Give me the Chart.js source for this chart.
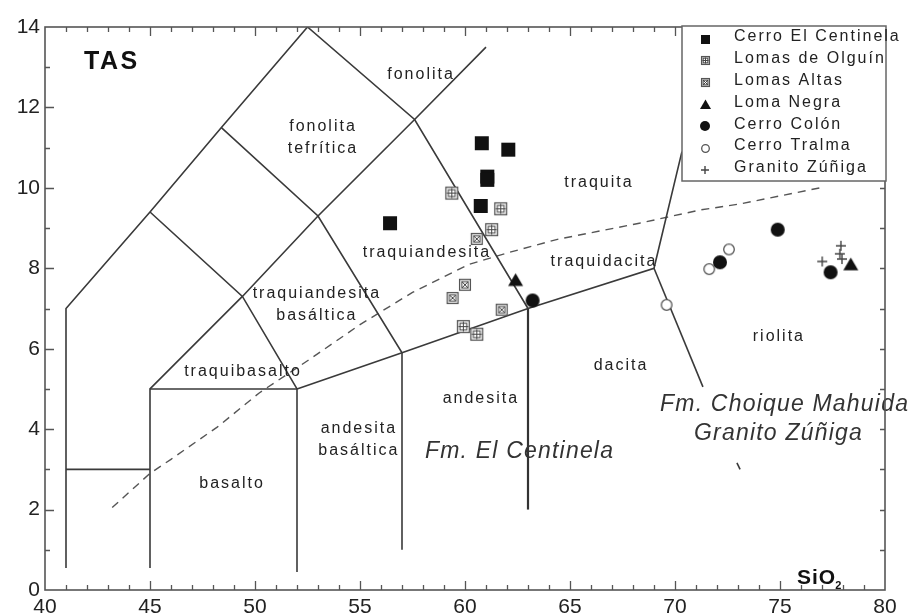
<!DOCTYPE html>
<html>
<head>
<meta charset="utf-8">
<script src="https://cdn.jsdelivr.net/npm/chart.js@4/dist/chart.umd.min.js"></script>
<style>
  html, body { margin: 0; padding: 0; background: #fff; }
  #wrap { width: 914px; height: 616px; }
</style>
</head>
<body>
<div id="wrap"><canvas id="tas" width="914" height="616"></canvas></div>
<script>
// ---- axes ----
const xTickValues = [40, 45, 50, 55, 60, 65, 70, 75, 80];
const yTickValues = [0, 2, 4, 6, 8, 10, 12, 14];

// ---- samples: SiO2 (wt%) and Na2O+K2O (wt%) ----
const seriesNames = ['Cerro El Centinela', 'Lomas de Olguín', 'Lomas Altas', 'Loma Negra',
                     'Cerro Colón', 'Cerro Tralma', 'Granito Zúñiga'];
const centinelaX = [56.43, 60.8, 62.06, 61.06, 61.06, 60.75];
const centinelaY = [9.12, 11.11, 10.95, 10.28, 10.2, 9.55];
const olguinX = [59.37, 61.7, 61.27, 59.92, 60.56];
const olguinY = [9.87, 9.48, 8.96, 6.55, 6.36];
const altasX = [60.56, 60.0, 59.41, 61.75];
const altasY = [8.73, 7.59, 7.26, 6.97];
const negraX = [62.41, 78.37];
const negraY = [7.71, 8.1];
const colonX = [63.22, 72.14, 74.89, 77.41];
const colonY = [7.2, 8.15, 8.96, 7.9];
const tralmaX = [69.6, 71.63, 72.57];
const tralmaY = [7.09, 7.98, 8.47];
const zunigaX = [77.01, 77.9, 77.85, 77.95];
const zunigaY = [8.17, 8.56, 8.36, 8.23];

// ---- TAS field boundaries (SiO2, total alkali) ----
const outerBoundary = [[41, 0.55], [41, 7], [45, 9.4], [48.4, 11.5], [52.5, 14], [57.6, 11.7], [63, 7]];
const picroLine = [[41, 3], [45, 3]];
const basaltBox = [[45, 0.55], [45, 5], [52, 5], [52, 0.45]];
const subalkTop = [[52, 5], [57, 5.9], [63, 7], [69, 8], [70.33, 10.9]];
const andesiteSide = [[57, 1], [57, 5.9], [53, 9.3], [48.4, 11.5]];
const tephriteSide = [[45, 9.4], [49.4, 7.3], [52, 5]];
const trachyteSide = [[45, 5], [49.4, 7.3], [53, 9.3], [57.6, 11.7], [61, 13.5]];
const daciteSide = [[63, 2], [63, 7]];
const rhyoliteUpper = [[69, 8], [71.33, 5.05]];
const rhyoliteLower = [[72.95, 3.16], [73.1, 3.0]];
const boundaryList = [outerBoundary, picroLine, basaltBox, subalkTop, andesiteSide,
                      tephriteSide, trachyteSide, rhyoliteUpper, rhyoliteLower];

// alkaline / subalkaline divide
const divideX = [43.2, 45, 46, 48.2, 50.2, 52.5, 55, 57.5, 60.2, 62, 64.4, 68.3, 71.2, 73.1, 76.9];
const divideY = [2.05, 2.9, 3.25, 4.05, 4.9, 5.7, 6.6, 7.4, 8.1, 8.38, 8.72, 9.12, 9.45, 9.6, 10.0];

// ---- field names ----
const fieldNames = ['fonolita', 'fonolita\ntefrítica', 'traquita', 'traquiandesita', 'traquidacita',
                    'traquiandesita\nbasáltica', 'traquibasalto', 'basalto', 'andesita\nbasáltica',
                    'andesita', 'dacita', 'riolita'];
const fieldNameX = [57.86, 53.19, 66.33, 58.14, 66.57, 52.9, 49.38, 48.86, 54.9, 60.71, 67.38, 74.9];
const fieldNameY = [12.81, 11.25, 10.12, 8.38, 8.16, 7.1, 5.42, 2.64, 3.73, 4.75, 5.57, 6.29];

const unitNames = ['Fm. El Centinela', 'Fm. Choique Mahuida', 'Granito Zúñiga'];
const unitNameX = [62.57, 75.19, 74.9];
const unitNameY = [3.43, 4.6, 3.9];

// ---- drawing helpers ----
const FAMILY = "'Liberation Sans', Arial, sans-serif";

function marker(kind, s) {
  const pad = 3;
  const c = document.createElement('canvas');
  c.width = c.height = Math.ceil(s + pad * 2);
  const g = c.getContext('2d');
  const m = c.width / 2, h = s / 2;
  g.lineJoin = 'miter';
  if (kind === 'square') {
    g.fillStyle = '#111';
    g.fillRect(m - h, m - h, s, s);
  } else if (kind === 'gridSquare' || kind === 'crossSquare') {
    g.fillStyle = '#fff';
    g.fillRect(m - h, m - h, s, s);
    g.strokeStyle = '#555';
    g.lineWidth = 1.3;
    g.strokeRect(m - h + 0.6, m - h + 0.6, s - 1.2, s - 1.2);
    const k = s * 0.26;
    g.lineWidth = 1;
    g.strokeStyle = '#444';
    g.strokeRect(m - k, m - k, 2 * k, 2 * k);
    g.beginPath();
    if (kind === 'gridSquare') {
      g.moveTo(m, m - h + 1.5); g.lineTo(m, m + h - 1.5);
      g.moveTo(m - h + 1.5, m); g.lineTo(m + h - 1.5, m);
    } else {
      g.moveTo(m - k, m - k); g.lineTo(m + k, m + k);
      g.moveTo(m + k, m - k); g.lineTo(m - k, m + k);
    }
    g.stroke();
  } else if (kind === 'triangle') {
    g.fillStyle = '#111';
    g.beginPath();
    g.moveTo(m, m - h * 0.9);
    g.lineTo(m + h, m + h * 0.8);
    g.lineTo(m - h, m + h * 0.8);
    g.closePath();
    g.fill();
  } else if (kind === 'disc') {
    g.fillStyle = '#111';
    g.beginPath(); g.arc(m, m, h, 0, Math.PI * 2); g.fill();
  } else if (kind === 'ring') {
    g.fillStyle = '#fff';
    g.strokeStyle = '#555';
    g.lineWidth = 1.3;
    g.beginPath(); g.arc(m, m, h - 0.7, 0, Math.PI * 2); g.fill(); g.stroke();
  } else if (kind === 'plus') {
    g.strokeStyle = '#444';
    g.lineWidth = 1.4;
    g.beginPath();
    g.moveTo(m - h, m); g.lineTo(m + h, m);
    g.moveTo(m, m - h); g.lineTo(m, m + h);
    g.stroke();
  }
  return c;
}

const markerKinds = ['square', 'gridSquare', 'crossSquare', 'triangle', 'disc', 'ring', 'plus'];
const plotSizes = [14, 13, 12, 15, 14, 12, 10];
const legendSizes = [9, 9, 9, 11, 10, 9, 8];
const plotMarkers = markerKinds.map((k, i) => marker(k, plotSizes[i]));
const legendMarkers = markerKinds.map((k, i) => marker(k, legendSizes[i]));

const seriesX = [centinelaX, olguinX, altasX, negraX, colonX, tralmaX, zunigaX];
const seriesY = [centinelaY, olguinY, altasY, negraY, colonY, tralmaY, zunigaY];

const toPoints = (xs, ys) => xs.map((x, i) => ({ x: x, y: ys[i] }));
const pairsToPoints = arr => arr.map(p => ({ x: p[0], y: p[1] }));

const sampleSets = seriesNames.map((name, i) => ({
  label: name,
  data: toPoints(seriesX[i], seriesY[i]),
  pointStyle: plotMarkers[i],
  pointRadius: 6,
  showLine: false
}));

const lineSets = boundaryList.map(b => ({
  label: '',
  data: pairsToPoints(b),
  showLine: true,
  pointRadius: 0,
  borderColor: '#3a3a3a',
  borderWidth: 1.6,
  tension: 0
}));
lineSets.push({
  label: '',
  data: pairsToPoints(daciteSide),
  showLine: true,
  pointRadius: 0,
  borderColor: '#333',
  borderWidth: 2.2,
  tension: 0
});
lineSets.push({
  label: '',
  data: toPoints(divideX, divideY),
  showLine: true,
  pointRadius: 0,
  borderColor: '#555',
  borderWidth: 1.4,
  borderDash: [8, 6],
  tension: 0
});

function spacedText(ctx, text, x, y, size, spacing, style, align) {
  ctx.font = style + ' ' + size + 'px ' + FAMILY;
  ctx.letterSpacing = spacing + 'px';
  ctx.textAlign = align;
  ctx.textBaseline = 'middle';
  ctx.fillText(text, align === 'center' ? x + spacing / 2 : x, y);
}

const decor = {
  id: 'tasDecor',
  afterDatasetDraw(chart, args) {
    // names go on top of the field lines, underneath the samples
    if (args.index !== seriesNames.length) return;
    const ctx = chart.ctx, xs = chart.scales.x, ys = chart.scales.y;
    ctx.save();
    ctx.fillStyle = '#222';
    fieldNames.forEach((name, i) => {
      const lines = name.split('\n');
      const px = xs.getPixelForValue(fieldNameX[i]);
      const py = ys.getPixelForValue(fieldNameY[i]);
      lines.forEach((ln, j) => {
        spacedText(ctx, ln, px, py + (j - (lines.length - 1) / 2) * 22, 16, 2, 'normal', 'center');
      });
    });
    ctx.fillStyle = '#333';
    unitNames.forEach((name, i) => {
      spacedText(ctx, name, xs.getPixelForValue(unitNameX[i]), ys.getPixelForValue(unitNameY[i]),
                 23, 1.2, 'italic', 'center');
    });
    ctx.fillStyle = '#111';
    spacedText(ctx, 'TAS', xs.getPixelForValue(41.86), ys.getPixelForValue(13.13), 25, 2.5, 'bold', 'left');
    const sx = xs.getPixelForValue(75.81), sy = ys.getPixelForValue(0.3);
    spacedText(ctx, 'SiO', sx, sy, 21, 1, 'bold', 'left');
    const w = ctx.measureText('SiO').width;
    spacedText(ctx, '2', sx + w - 1, sy + 8, 11, 0, 'bold', 'left');
    ctx.restore();
  },
  afterDraw(chart) {
    const ctx = chart.ctx, a = chart.chartArea;
    const xs = chart.scales.x, ys = chart.scales.y;
    ctx.save();
    // frame with inward ticks
    ctx.strokeStyle = '#555';
    ctx.lineWidth = 1.6;
    ctx.strokeRect(a.left, a.top, a.right - a.left, a.bottom - a.top);
    ctx.lineWidth = 1.3;
    ctx.beginPath();
    for (let v = 41; v < 80; v++) {
      const px = Math.round(xs.getPixelForValue(v)) + 0.5;
      const len = v % 5 === 0 ? 9 : 5;
      ctx.moveTo(px, a.bottom); ctx.lineTo(px, a.bottom - len);
      ctx.moveTo(px, a.top); ctx.lineTo(px, a.top + len);
    }
    for (let v = 1; v < 14; v++) {
      const py = Math.round(ys.getPixelForValue(v)) + 0.5;
      const len = v % 2 === 0 ? 9 : 5;
      ctx.moveTo(a.left, py); ctx.lineTo(a.left + len, py);
      ctx.moveTo(a.right, py); ctx.lineTo(a.right - 5, py);
    }
    ctx.stroke();

    // legend box
    const bRight = a.right + 1, bTop = a.top - 1, bW = 204, bH = 155;
    const bLeft = bRight - bW;
    ctx.fillStyle = '#fff';
    ctx.fillRect(bLeft, bTop, bW, bH);
    ctx.strokeStyle = '#666';
    ctx.lineWidth = 1.5;
    ctx.strokeRect(bLeft, bTop, bW, bH);
    ctx.fillStyle = '#222';
    chart.data.datasets.slice(0, seriesNames.length).forEach((ds, i) => {
      const ry = bTop + 11 + i * 21.8;
      const mk = legendMarkers[i];
      ctx.drawImage(mk, Math.round(bLeft + 23 - mk.width / 2), Math.round(ry + 2 - mk.height / 2));
      spacedText(ctx, ds.label, bLeft + 52, ry, 16, 2, 'normal', 'left');
    });
    ctx.restore();
  }
};

const tickFont = { family: FAMILY, size: 21 };

new Chart(document.getElementById('tas'), {
  type: 'scatter',
  data: { datasets: sampleSets.concat(lineSets) },
  options: {
    responsive: false,
    animation: false,
    devicePixelRatio: 1,
    layout: { padding: { top: 27, right: 29, left: 0, bottom: 0 } },
    plugins: { legend: { display: false }, tooltip: { enabled: false } },
    scales: {
      x: {
        type: 'linear', min: 40, max: 80,
        afterBuildTicks: s => { s.ticks = xTickValues.map(v => ({ value: v })); },
        afterFit: s => { s.height = 26; },
        ticks: { font: tickFont, color: '#222', padding: 5, maxRotation: 0, autoSkip: false },
        grid: { display: false, drawTicks: false, tickLength: 0 },
        border: { display: false }
      },
      y: {
        type: 'linear', min: 0, max: 14,
        afterBuildTicks: s => { s.ticks = yTickValues.map(v => ({ value: v })); },
        afterFit: s => { s.width = 45; },
        ticks: { font: tickFont, color: '#222', padding: 5, autoSkip: false },
        grid: { display: false, drawTicks: false, tickLength: 0 },
        border: { display: false }
      }
    }
  },
  plugins: [decor]
});
</script>
</body>
</html>
